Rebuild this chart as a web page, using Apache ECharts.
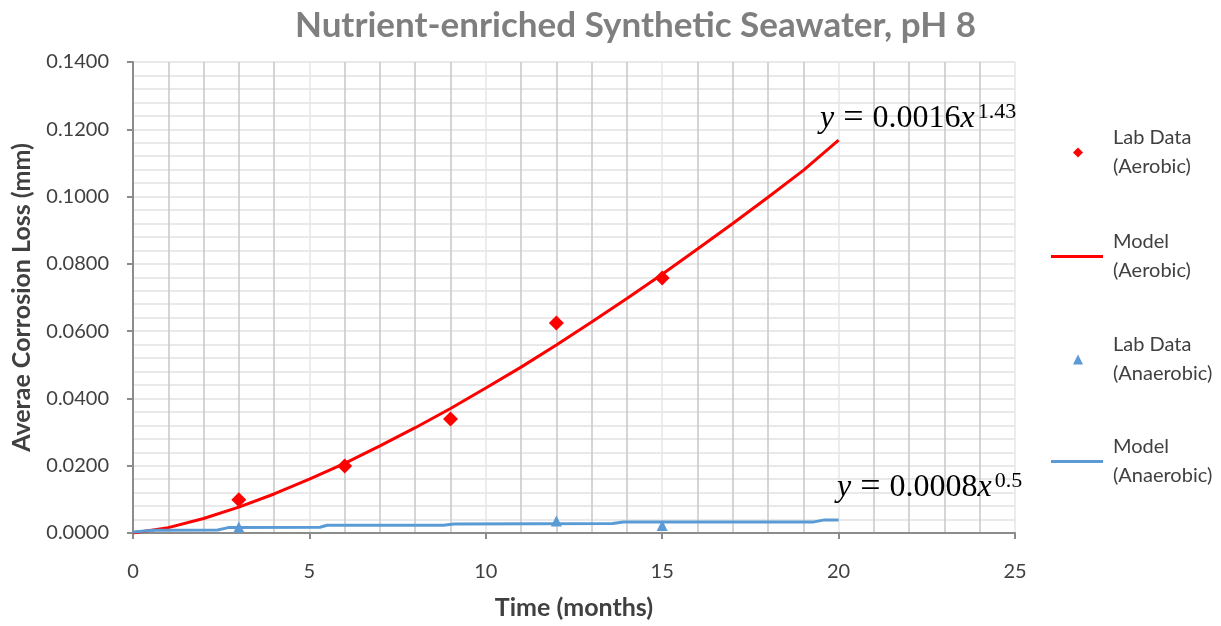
<!DOCTYPE html>
<html>
<head>
<meta charset="utf-8">
<script src="https://cdn.jsdelivr.net/npm/echarts@6/dist/echarts.min.js"></script>
<style>
html,body{margin:0;padding:0;background:#fff;}
#chart{width:1221px;height:626px;}
</style>
</head>
<body>
<div id="chart"></div>
<script>
// ---- data ----
const titleText = 'Nutrient-enriched Synthetic Seawater, pH 8';
const xAxisTitle = 'Time (months)';
const yAxisTitle = 'Averae Corrosion Loss (mm)';

const labMonths = [3, 6, 9, 12, 15];
const labAerobic = [0.0099, 0.0199, 0.0339, 0.0624, 0.0758];
const labAnaerobic = [0.0018, 0.0036, 0.0022];
const labAnaerobicMonths = [3, 12, 15];

const modelAerobicMonths = [0, 1, 2, 3, 4, 5, 6, 7, 8, 9, 10, 11, 12, 13, 14, 15, 16, 17, 18, 19, 20];
const modelAerobic = [0, 0.0016, 0.0043, 0.0077, 0.0116, 0.0160, 0.0207, 0.0259, 0.0313, 0.0370, 0.0431,
  0.0493, 0.0559, 0.0627, 0.0697, 0.0769, 0.0844, 0.0920, 0.0998, 0.1078, 0.1168];

const modelAnaerobicMonths = [0, 0.6, 2.4, 2.7, 5.3, 5.5, 8.8, 9.1, 13.6, 13.9, 19.3, 19.6, 20];
const modelAnaerobic = [0.0003, 0.0008, 0.0009, 0.0016, 0.0017, 0.0023, 0.0023, 0.0027, 0.0028, 0.0033, 0.0033, 0.0039, 0.0039];

const seriesNames = ['Lab Data (Aerobic)', 'Model (Aerobic)', 'Lab Data (Anaerobic)', 'Model (Anaerobic)'];
const eqAerobic = { coef: '0.0016', exp: '1.43' };
const eqAnaerobic = { coef: '0.0008', exp: '0.5' };

// ---- chart ----
const RED = '#ff0000';
const BLUE = '#5b9bd5';
const TXT = '#404040';
const FONT = 'Lato, "Open Sans", sans-serif';

const zip = (xs, ys) => xs.map((x, i) => [x, ys[i]]);

function legendFor(name, icon, centerY, isLine) {
  const iw = isLine ? 52 : 10;
  const left = isLine ? 1051 : 1073;
  const textStart = 1113;
  return {
    orient: 'vertical',
    padding: 0,
    left: left,
    top: centerY - 44,
    itemWidth: iw,
    itemHeight: isLine ? 3 : 10,
    selectedMode: false,
    data: [{ name: name, icon: icon }],
    formatter: n => n.replace(' (', '\n('),
    textStyle: { color: TXT, fontFamily: FONT, fontSize: 20, lineHeight: 29, padding: [29, 0, 0, textStart - (left + iw + 5)] }
  };
}

const chart = echarts.init(document.getElementById('chart'), null, { renderer: 'canvas' });
const SERIF = '"Liberation Serif", serif';
const eqRich = {
  i: { fontFamily: SERIF, fontStyle: 'italic', fontSize: 32, color: '#222' },
  e: { fontFamily: SERIF, fontSize: 36, color: '#222' },
  n: { fontFamily: SERIF, fontSize: 32, color: '#222' },
  s: { fontFamily: SERIF, fontSize: 22, color: '#222', verticalAlign: 'top', padding: [0, 0, 0, 3] }
};
const eqText = e => '{i|y}{e| = }{n|' + e.coef + '}{i|x}{s|' + e.exp + '}';

chart.setOption({
  backgroundColor: '#ffffff',
  animation: false,
  title: {
    text: titleText,
    left: 290,
    top: 3,
    textStyle: { fontFamily: FONT, fontWeight: 'bold', fontSize: 35, color: '#7f7f7f' }
  },
  grid: { left: 133, right: 206, top: 62, bottom: 93, containLabel: false },
  xAxis: {
    type: 'value', min: 0, max: 25, interval: 5,
    name: xAxisTitle, nameLocation: 'middle', nameGap: 62,
    nameTextStyle: { fontFamily: FONT, fontWeight: 'bold', fontSize: 25, color: TXT },
    axisLine: { show: true, lineStyle: { color: '#8c8c8c', width: 2 } },
    axisTick: { show: true, inside: false, length: 6, lineStyle: { color: '#8c8c8c', width: 2 } },
    axisLabel: { color: TXT, fontFamily: FONT, fontSize: 20, margin: 29 },
    splitLine: { show: true, lineStyle: { color: '#e6e6e6', width: 1.5 } },
    minorTick: { show: false, splitNumber: 5 },
    minorSplitLine: { show: true, lineStyle: { color: '#c8c8c8', width: 1.5 } }
  },
  yAxis: {
    type: 'value', min: 0, max: 0.14, interval: 0.02,
    name: yAxisTitle, nameLocation: 'middle', nameGap: 99, nameRotate: 90,
    nameTextStyle: { fontFamily: FONT, fontWeight: 'bold', fontSize: 25, color: TXT },
    axisLine: { show: true, lineStyle: { color: '#8c8c8c', width: 2 } },
    axisTick: { show: true, inside: false, length: 6, lineStyle: { color: '#8c8c8c', width: 2 } },
    axisLabel: { color: TXT, fontFamily: FONT, fontSize: 20, margin: 24, formatter: v => v.toFixed(4) },
    splitLine: { show: true, lineStyle: { color: '#e2e2e2', width: 1.5 } },
    minorTick: { show: false, splitNumber: 5 },
    minorSplitLine: { show: true, lineStyle: { color: '#e2e2e2', width: 1.5 } }
  },
  legend: [
    legendFor(seriesNames[0], 'diamond', 153, false),
    legendFor(seriesNames[1], 'rect', 257, true),
    legendFor(seriesNames[2], 'triangle', 360, false),
    legendFor(seriesNames[3], 'rect', 462, true)
  ],
  series: [
    {
      name: seriesNames[1], type: 'line', data: zip(modelAerobicMonths, modelAerobic),
      showSymbol: false, symbol: 'none', smooth: false,
      lineStyle: { color: RED, width: 3 }, itemStyle: { color: RED }, z: 3
    },
    {
      name: seriesNames[3], type: 'line', data: zip(modelAnaerobicMonths, modelAnaerobic),
      showSymbol: false, symbol: 'none',
      lineStyle: { color: BLUE, width: 3 }, itemStyle: { color: BLUE }, z: 3
    },
    {
      name: seriesNames[0], type: 'scatter', data: zip(labMonths, labAerobic),
      symbol: 'diamond', symbolSize: 15, itemStyle: { color: RED, opacity: 1 }, z: 4
    },
    {
      name: seriesNames[2], type: 'scatter', data: zip(labAnaerobicMonths, labAnaerobic),
      symbol: 'triangle', symbolSize: 11, itemStyle: { color: BLUE, opacity: 1 }, z: 4
    }
  ],
  graphic: [
    { type: 'text', left: 820, top: 101, z: 10, style: { text: eqText(eqAerobic), rich: eqRich } },
    { type: 'text', left: 837, top: 470, z: 10, style: { text: eqText(eqAnaerobic), rich: eqRich } }
  ]
});
</script>
</body>
</html>
